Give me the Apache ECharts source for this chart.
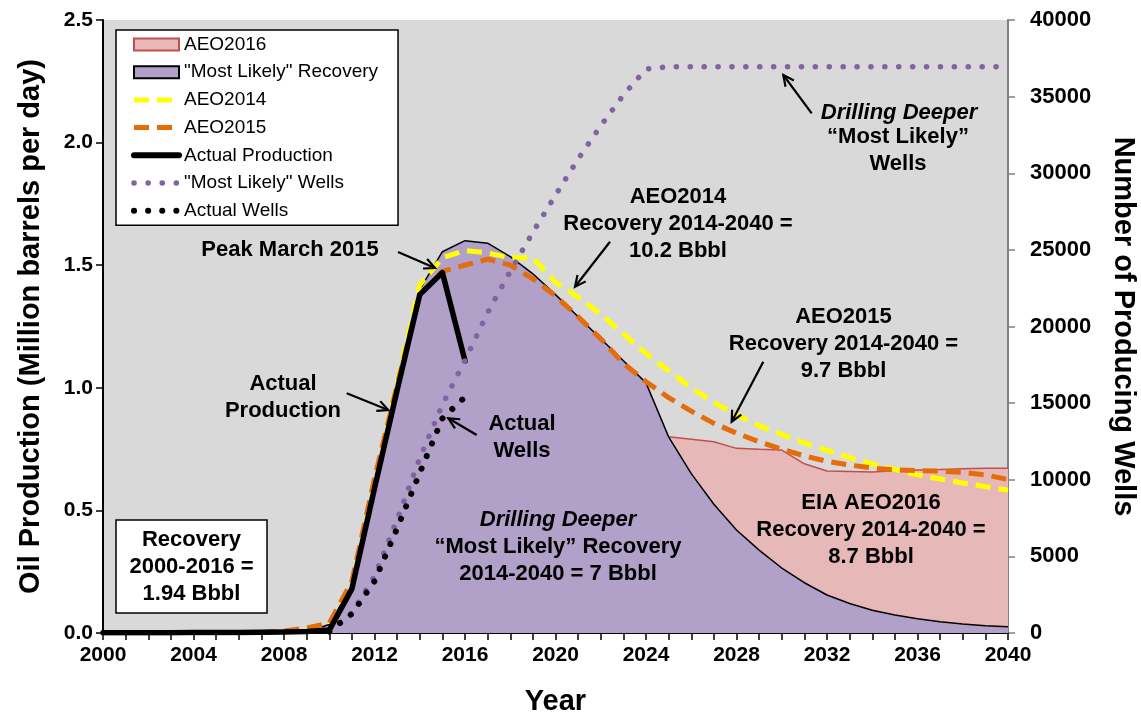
<!DOCTYPE html>
<html>
<head>
<meta charset="utf-8">
<script src="https://cdn.jsdelivr.net/npm/echarts@6/dist/echarts.min.js"></script>
<style>
html,body{margin:0;padding:0;background:#fff;}
#chart{width:1141px;height:713px;}
</style>
</head>
<body>
<div id="chart"></div>
<script>
// ---------------- DATA ----------------
const years = [2000,2001,2002,2003,2004,2005,2006,2007,2008,2009,
               2010,2011,2012,2013,2014,2015,2016,2017,2018,2019,
               2020,2021,2022,2023,2024,2025,2026,2027,2028,2029,
               2030,2031,2032,2033,2034,2035,2036,2037,2038,2039,2040];

// Million barrels per day (index 0 = 2000)
const aeo2016 = [null,null,null,null,null,null,null,null,null,null,
                 null,null,null,null,null,null,null,null,null,null,
                 null,null,null,null,null,0.80,0.79,0.78,0.753,0.749,
                 0.746,0.69,0.661,0.659,0.657,0.662,0.665,0.667,0.670,0.672,0.672];

const mostLikelyRecovery = [0,0,0,0,0,0,0,0,0,0.005,
                 0.035,0.19,0.60,1.00,1.40,1.555,1.60,1.59,1.535,1.465,
                 1.38,1.29,1.20,1.11,1.02,0.80,0.65,0.525,0.42,0.338,
                 0.265,0.205,0.155,0.12,0.093,0.073,0.058,0.046,0.037,0.030,0.025];

const aeo2014 = [null,null,null,null,null,null,null,null,0.005,0.015,
                 0.035,0.20,0.62,1.02,1.42,1.53,1.56,1.55,1.53,1.53,
                 1.43,1.37,1.30,1.22,1.14,1.07,1.00,0.94,0.89,0.845,
                 0.81,0.775,0.745,0.715,0.69,0.667,0.645,0.628,0.612,0.597,0.582];

const aeo2015 = [null,null,null,null,null,null,null,0.002,0.008,0.02,
                 0.04,0.21,0.63,1.01,1.38,1.475,1.50,1.525,1.50,1.445,
                 1.375,1.29,1.20,1.10,1.025,0.96,0.905,0.855,0.815,0.78,
                 0.75,0.722,0.70,0.685,0.673,0.665,0.662,0.66,0.655,0.645,0.626];

const actualProduction = [0.001,0.001,0.001,0.001,0.002,0.002,0.002,0.003,0.004,0.006,
                 0.012,0.18,0.59,0.99,1.38,1.47,1.11,null,null,null,
                 null,null,null,null,null,null,null,null,null,null,
                 null,null,null,null,null,null,null,null,null,null,null];

// Number of producing wells
const mostLikelyWells = [null,null,null,null,null,null,null,null,null,null,
                 100,1300,3700,7400,11400,14900,17800,20900,23600,26150,
                 28570,30930,33100,35100,36800,36950,36950,36950,36950,36950,
                 36950,36950,36950,36950,36950,36950,36950,36950,36950,36950,36950];

const actualWells = [null,null,null,null,null,null,null,null,null,null,
                 100,1250,3380,6830,10450,14000,15400,null,null,null,
                 null,null,null,null,null,null,null,null,null,null,
                 null,null,null,null,null,null,null,null,null,null,null];

const leftTicks = [0, 0.5, 1.0, 1.5, 2.0, 2.5];
const rightTicks = [0, 5000, 10000, 15000, 20000, 25000, 30000, 35000, 40000];

// ---------------- STYLE ----------------
const FF = '"Liberation Sans", Arial, Helvetica, sans-serif';
const C_AEO16_FILL = '#E6B8B7', C_AEO16_LINE = '#C0504D';
const C_ML_FILL = '#B1A0C7';
const C_Y = '#FFFF00', C_O = '#E46C0A', C_PW = '#8064A2';

function txt(x, y, text, opts) {
  opts = opts || {};
  return {
    type: 'text', x: x, y: y, z: 100,
    style: {
      text: text, fill: '#000',
      fontFamily: FF, fontSize: opts.size || 22,
      fontWeight: 'bold', fontStyle: opts.italic ? 'italic' : 'normal',
      textAlign: 'center', align: 'center',
      textVerticalAlign: 'middle', verticalAlign: 'middle',
      lineHeight: 27
    }
  };
}
function arrow(x1, y1, x2, y2) {
  const a = Math.atan2(y2 - y1, x2 - x1), L = 12, w = 0.45;
  const p1 = [x2 - L * Math.cos(a - w), y2 - L * Math.sin(a - w)];
  const p2 = [x2 - L * Math.cos(a + w), y2 - L * Math.sin(a + w)];
  return [
    {type: 'line', z: 100, shape: {x1: x1, y1: y1, x2: x2, y2: y2}, style: {stroke: '#000', lineWidth: 2.2}},
    {type: 'polyline', z: 100, shape: {points: [p1, [x2, y2], p2]}, style: {stroke: '#000', lineWidth: 2.2, fill: null}}
  ];
}

const chart = echarts.init(document.getElementById('chart'), null, {renderer: 'canvas'});

const graphics = [
  {type: 'rect', z: 90, shape: {x: 116, y: 520, width: 151, height: 93}, style: {fill: '#fff', stroke: '#000', lineWidth: 1.5}},
  txt(191.5, 567, 'Recovery\n2000-2016 =\n1.94 Bbbl'),
  txt(290, 250, 'Peak March 2015'),
  txt(283, 397, 'Actual\nProduction'),
  txt(522, 437, 'Actual\nWells'),
  txt(558, 520, 'Drilling Deeper', {italic: true}),
  txt(558, 560, '\u201CMost Likely\u201D Recovery\n2014-2040 = 7 Bbbl'),
  txt(678, 224, 'AEO2014\nRecovery 2014-2040 =\n10.2 Bbbl'),
  txt(843.5, 343.5, 'AEO2015\nRecovery 2014-2040 =\n9.7 Bbbl'),
  txt(871, 530, 'EIA AEO2016\nRecovery 2014-2040 =\n8.7 Bbbl'),
  txt(899, 113, 'Drilling Deeper', {italic: true}),
  txt(898, 150, '\u201CMost Likely\u201D\nWells')
].concat(
  arrow(398, 252, 435, 268),
  arrow(346.7, 393.3, 388.3, 410),
  arrow(476.7, 435, 448.3, 418.3),
  arrow(610, 241.7, 575, 286.7),
  arrow(763.3, 361.7, 731.7, 421.7),
  arrow(811.7, 113.3, 783.3, 75)
);

const axisLabelStyle = {color: '#000', fontFamily: FF, fontSize: 21, fontWeight: 'bold'};
const nameStyle = {color: '#000', fontFamily: FF, fontSize: 29, fontWeight: 'bold'};
const noSym = {opacity: 0};

const option = {
  animation: false,
  backgroundColor: '#fff',
  grid: {left: 103, right: 133, top: 20, bottom: 80, show: true, backgroundColor: '#D9D9D9', borderWidth: 0,
         containLabel: false, outerBoundsMode: 'none'},
  legend: {
    orient: 'vertical', left: 116, top: 30,
    backgroundColor: '#fff', borderColor: '#000', borderWidth: 1.5, borderRadius: 0,
    padding: [5, 20, 5, 15], itemWidth: 45, itemHeight: 12, itemGap: 8.7,
    textStyle: {color: '#000', fontFamily: FF, fontSize: 19},
    selectedMode: false,
    data: [
      {name: 'AEO2016', icon: 'rect', itemStyle: {color: C_AEO16_FILL, borderColor: C_AEO16_LINE, borderWidth: 2}},
      {name: '"Most Likely" Recovery', icon: 'rect', itemStyle: {color: C_ML_FILL, borderColor: '#000', borderWidth: 2}},
      {name: 'AEO2014', itemStyle: noSym, lineStyle: {color: C_Y, width: 5, type: [15, 8]}},
      {name: 'AEO2015', itemStyle: noSym, lineStyle: {color: C_O, width: 5, type: [15, 8]}},
      {name: 'Actual Production', itemStyle: noSym, lineStyle: {color: '#000', width: 6, cap: 'round'}},
      {name: '"Most Likely" Wells', itemStyle: noSym, lineStyle: {color: C_PW, width: 5.5, type: [0.1, 14], cap: 'round'}},
      {name: 'Actual Wells', itemStyle: noSym, lineStyle: {color: '#000', width: 6, type: [0.1, 14], cap: 'round'}}
    ]
  },
  xAxis: [{
    type: 'category', data: years, boundaryGap: false,
    axisLine: {lineStyle: {color: '#000', width: 2}},
    axisTick: {show: true, interval: 0, length: 7, inside: false, lineStyle: {color: '#000', width: 1.5}},
    axisLabel: Object.assign({interval: 3, margin: 12}, axisLabelStyle),
    splitLine: {show: false},
    name: 'Year', nameLocation: 'middle', nameGap: 54, nameTextStyle: nameStyle
  }, {
    type: 'category', data: years, boundaryGap: false, position: 'top',
    axisLine: {show: true, lineStyle: {color: '#000', width: 2}},
    axisTick: {show: false}, axisLabel: {show: false}, splitLine: {show: false}
  }],
  yAxis: [{
    type: 'value', min: leftTicks[0], max: leftTicks[leftTicks.length - 1], interval: 0.5, position: 'left',
    axisLine: {show: true, lineStyle: {color: '#000', width: 2}},
    axisTick: {show: true, length: 7, lineStyle: {color: '#000', width: 1.5}},
    axisLabel: Object.assign({margin: 10, formatter: v => v.toFixed(1)}, axisLabelStyle),
    splitLine: {show: false},
    name: 'Oil Production (Million barrels per day)', nameLocation: 'middle', nameGap: 58, nameTextStyle: nameStyle
  }, {
    type: 'value', min: rightTicks[0], max: rightTicks[rightTicks.length - 1], interval: 5000, position: 'right',
    axisLine: {show: true, lineStyle: {color: '#808080', width: 2}},
    axisTick: {show: true, length: 7, lineStyle: {color: '#808080', width: 1.5}},
    axisLabel: Object.assign({margin: 22, align: 'left', formatter: v => String(v)}, axisLabelStyle, {fontSize: 22}),
    splitLine: {show: false},
    name: 'Number of Producing Wells', nameLocation: 'middle', nameRotate: -90, nameGap: 100, nameTextStyle: nameStyle
  }],
  series: [
    {name: 'AEO2016', type: 'line', data: aeo2016, symbol: 'none', z: 1,
     lineStyle: {color: C_AEO16_LINE, width: 1.5}, itemStyle: {color: C_AEO16_FILL},
     areaStyle: {color: C_AEO16_FILL, opacity: 1}},
    {name: '"Most Likely" Recovery', type: 'line', data: mostLikelyRecovery, symbol: 'none', z: 2,
     lineStyle: {color: '#000', width: 1.5}, itemStyle: {color: C_ML_FILL},
     areaStyle: {color: C_ML_FILL, opacity: 1}},
    {name: 'AEO2014', type: 'line', data: aeo2014, symbol: 'none', z: 3,
     lineStyle: {color: C_Y, width: 5, type: [15, 8]}, itemStyle: {color: C_Y}},
    {name: 'AEO2015', type: 'line', data: aeo2015, symbol: 'none', z: 4,
     lineStyle: {color: C_O, width: 5, type: [15, 8]}, itemStyle: {color: C_O}},
    {name: 'Actual Production', type: 'line', data: actualProduction, symbol: 'none', z: 5,
     lineStyle: {color: '#000', width: 5.5, cap: 'round', join: 'round'}, itemStyle: {color: '#000'}},
    {name: '"Most Likely" Wells', type: 'line', yAxisIndex: 1, data: mostLikelyWells, symbol: 'none', z: 6,
     lineStyle: {color: C_PW, width: 5.5, type: [0.1, 13.8], cap: 'round'}, itemStyle: {color: C_PW}},
    {name: 'Actual Wells', type: 'line', yAxisIndex: 1, data: actualWells, symbol: 'none', z: 7,
     lineStyle: {color: '#000', width: 6, type: [0.1, 13.5], cap: 'round'}, itemStyle: {color: '#000'}}
  ],
  graphic: graphics
};
chart.setOption(option);
</script>
</body>
</html>
